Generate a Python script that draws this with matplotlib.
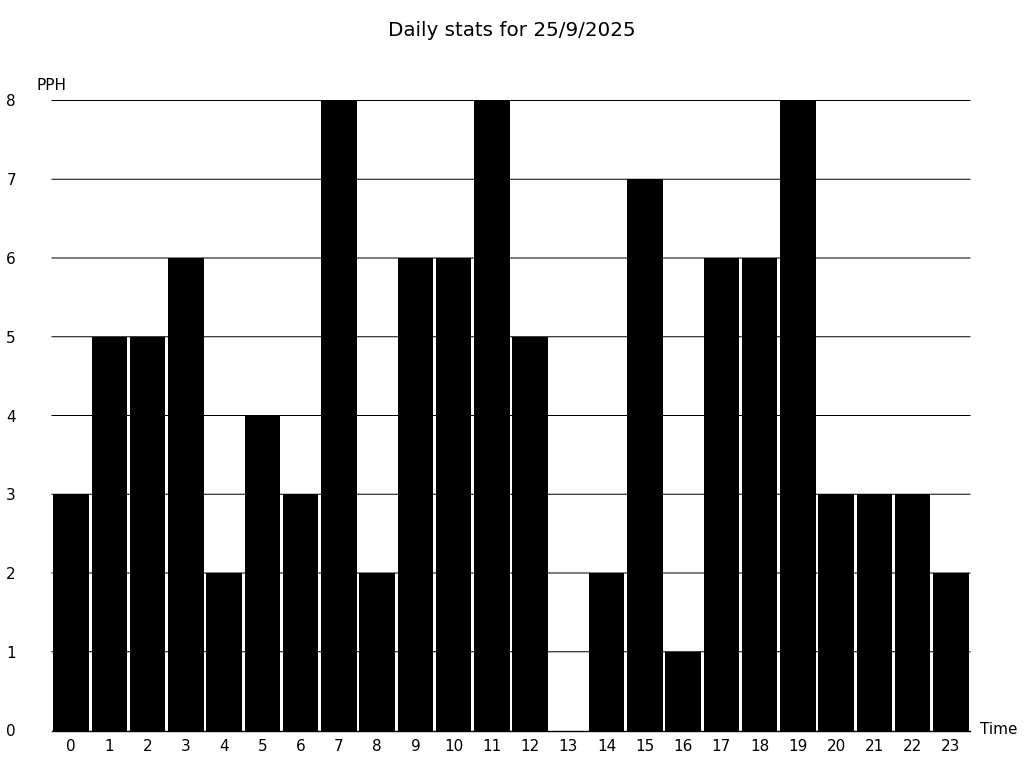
import matplotlib
matplotlib.use('Agg')
import matplotlib.pyplot as plt

hours = list(range(24))
pph = [3, 5, 5, 6, 2, 4, 3, 8, 2, 6, 6, 8, 5, 0, 2, 7, 1, 6, 6, 8, 3, 3, 3, 2]
yticks = list(range(9))

fig = plt.figure(figsize=(10.24, 7.68), dpi=100)
ax = fig.add_axes([52 / 1024, 37.5 / 768, 918 / 1024, 630 / 768])

ax.bar(hours, pph, width=0.93, color='black', zorder=2)
ax.set_xlim(-0.5, 23.5)
ax.set_ylim(0, 8)
ax.set_xticks(hours)
ax.set_yticks(yticks)
ax.tick_params(axis='both', length=0, labelsize=11)
ax.tick_params(axis='y', pad=26)
ax.tick_params(axis='x', pad=6)

# thin black grid, left unsnapped so it antialiases like the original
for v in yticks[1:]:
    ax.axhline(v, color='black', linewidth=0.72, snap=False, zorder=1, clip_on=False)

for side in ['top', 'right', 'left']:
    ax.spines[side].set_visible(False)
ax.spines['bottom'].set_color('black')
ax.spines['bottom'].set_linewidth(1)

fig.text(37 / 1024, 1 - 85 / 768, 'PPH', fontsize=11, va='center', ha='left')
fig.text(980 / 1024, 1 - 730 / 768, 'Time', fontsize=11, va='center', ha='left')
fig.suptitle('Daily stats for 25/9/2025', fontsize=14.3, y=1 - 31 / 768, va='center')

fig.savefig('out.png', dpi=100)
